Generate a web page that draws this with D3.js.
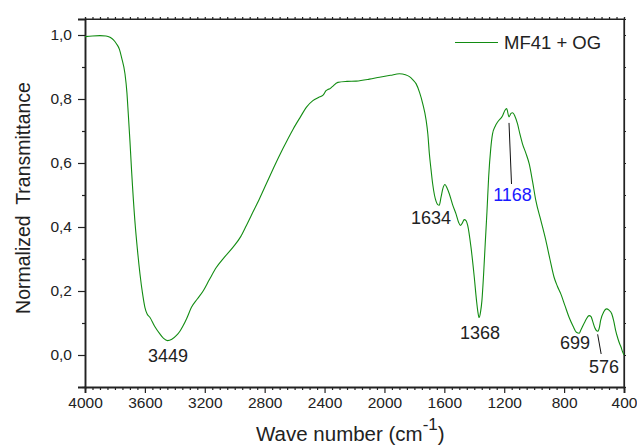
<!DOCTYPE html>
<html>
<head>
<meta charset="utf-8">
<script src="https://cdn.jsdelivr.net/npm/d3@7/dist/d3.min.js"></script>
<style>
  html, body { margin: 0; padding: 0; background: #fff; }
  svg { display: block; font-family: "Liberation Sans", Arial, sans-serif; }
</style>
</head>
<body>
<svg id="chart" width="637" height="446"></svg>
<script>
// FTIR spectrum of MF41 + OG: wave number (cm-1) and normalized transmittance
const waveNumbers = [
  4000, 3950, 3900, 3860, 3833, 3810, 3789, 3770, 3756, 3733, 3720, 3711, 3700, 3689,
  3667, 3650, 3633, 3615, 3600, 3585, 3567, 3535, 3500, 3475, 3449, 3420, 3389, 3365,
  3344, 3320, 3289, 3250, 3211, 3170, 3122, 3070, 3011, 2960, 2922, 2880, 2833, 2789,
  2740, 2678, 2611, 2560, 2522, 2478, 2440, 2410, 2390, 2378, 2365, 2350, 2311, 2250,
  2189, 2100, 2033, 1960, 1900, 1860, 1833, 1810, 1789, 1765, 1744, 1722, 1710, 1700,
  1689, 1678, 1666, 1655, 1644, 1634, 1622, 1610, 1596, 1582, 1567, 1545, 1522, 1505,
  1493, 1480, 1467, 1455, 1444, 1422, 1400, 1385, 1376, 1368, 1358, 1349, 1338, 1327,
  1315, 1304, 1290, 1278, 1260, 1244, 1211, 1195, 1184, 1168, 1155, 1144, 1130, 1111,
  1095, 1078, 1055, 1033, 1010, 989, 955, 922, 895, 867, 845, 822, 795, 767, 740, 718,
  699, 689, 660, 633, 620, 611, 595, 576, 565, 556, 535, 518, 500, 482, 468, 456, 440,
  429, 420, 411, 405, 400
];
const transmittance = [
  0.995, 0.997, 0.998, 0.997, 0.993, 0.985, 0.972, 0.955, 0.930, 0.879, 0.820, 0.754, 0.670, 0.577,
  0.420, 0.330, 0.254, 0.190, 0.149, 0.128, 0.118, 0.090, 0.066, 0.052, 0.045, 0.049, 0.061, 0.075,
  0.092, 0.115, 0.149, 0.175, 0.200, 0.235, 0.274, 0.305, 0.337, 0.370, 0.405, 0.445, 0.490, 0.535,
  0.585, 0.645, 0.705, 0.745, 0.774, 0.795, 0.805, 0.812, 0.826, 0.830, 0.832, 0.838, 0.852, 0.855,
  0.856, 0.862, 0.868, 0.874, 0.879, 0.876, 0.870, 0.860, 0.848, 0.820, 0.785, 0.735, 0.690, 0.629,
  0.580, 0.535, 0.500, 0.480, 0.470, 0.468, 0.493, 0.520, 0.533, 0.522, 0.504, 0.470, 0.441, 0.415,
  0.405, 0.412, 0.423, 0.420, 0.405, 0.337, 0.243, 0.170, 0.135, 0.117, 0.135, 0.170, 0.250, 0.347,
  0.450, 0.556, 0.645, 0.691, 0.715, 0.728, 0.748, 0.765, 0.770, 0.744, 0.755, 0.757, 0.748, 0.722,
  0.690, 0.660, 0.630, 0.597, 0.540, 0.483, 0.420, 0.358, 0.300, 0.243, 0.215, 0.191, 0.155, 0.118, 0.090, 0.071,
  0.068, 0.077, 0.105, 0.123, 0.120, 0.108, 0.085, 0.074, 0.085, 0.108, 0.135, 0.144, 0.140, 0.129, 0.105, 0.077, 0.050,
  0.035, 0.025, 0.012, 0.005, 0.000
];

// Axis ticks
const xTickValues = [4000, 3600, 3200, 2800, 2400, 2000, 1600, 1200, 800, 400];
const yTickValues = [0.0, 0.2, 0.4, 0.6, 0.8, 1.0];

// Peak annotations
const peakLabels = ["3449", "1634", "1168", "1368", "699", "576"];
const peakColors = ["#222", "#222", "#1a1aff", "#222", "#222", "#222"];

const seriesName = "MF41 + OG";

const svg = d3.select("#chart");
const plotLeft = 85, plotRight = 624, plotTop = 19, plotBottom = 387;

const x = d3.scaleLinear().domain([4000, 400]).range([plotLeft, plotRight]);
const y = d3.scaleLinear().domain([-0.1, 1.05]).range([plotBottom, plotTop]);

const fmt = v => d3.format(".1f")(v).replace(".", ",");

// Frame (top and right)
svg.append("line").attr("x1", plotLeft).attr("x2", plotRight).attr("y1", plotTop).attr("y2", plotTop)
  .attr("stroke", "#222").attr("stroke-width", 1.2);
svg.append("line").attr("x1", plotRight).attr("x2", plotRight).attr("y1", plotTop).attr("y2", plotBottom)
  .attr("stroke", "#222").attr("stroke-width", 1.2);

// Bottom axis: major ticks every 400, minor every 50
const xMinor = d3.range(4000, 399, -50).filter(v => v % 400 !== 0);
svg.append("g").attr("transform", `translate(0,${plotBottom})`)
  .call(d3.axisBottom(x).tickValues(xMinor).tickSize(3).tickFormat(""));
const bottomAxis = svg.append("g").attr("transform", `translate(0,${plotBottom})`)
  .call(d3.axisBottom(x).tickValues(xTickValues).tickSize(6).tickPadding(4).tickFormat(d3.format("d")));
bottomAxis.selectAll("text").attr("font-size", 15.5).attr("fill", "#222")
  .attr("font-family", "Liberation Sans, Arial, sans-serif");

// Top axis: small outward ticks
svg.append("g").attr("transform", `translate(0,${plotTop})`)
  .call(d3.axisTop(x).tickValues(d3.range(4000, 399, -50)).tickSize(2).tickFormat(""));

// Left axis
const yMinor = [-0.1, 0.1, 0.3, 0.5, 0.7, 0.9];
svg.append("g").attr("transform", `translate(${plotLeft},0)`)
  .call(d3.axisLeft(y).tickValues(yMinor).tickSize(3).tickFormat(""));
const leftAxis = svg.append("g").attr("transform", `translate(${plotLeft},0)`)
  .call(d3.axisLeft(y).tickValues(yTickValues).tickSize(7).tickPadding(6).tickFormat(fmt));
leftAxis.selectAll("text").attr("font-size", 15.5).attr("fill", "#222")
  .attr("font-family", "Liberation Sans, Arial, sans-serif");

// Right axis: small outward ticks every 0.1
svg.append("g").attr("transform", `translate(${plotRight},0)`)
  .call(d3.axisRight(y).tickValues(d3.range(0, 11).map(i => i / 10)).tickSize(2).tickFormat(""));

svg.selectAll(".domain").attr("stroke", "#222").attr("stroke-width", 1.2);
svg.selectAll(".tick line").attr("stroke", "#222").attr("stroke-width", 1.2);
// Left and bottom axis lines are heavier
leftAxis.select(".domain").attr("stroke-width", 1.8);
bottomAxis.select(".domain").attr("stroke-width", 1.8);

// Spectrum
const data = waveNumbers.map((w, i) => ({ w, t: transmittance[i] }));
const line = d3.line().x(d => x(d.w)).y(d => y(d.t)).curve(d3.curveMonotoneX);
svg.append("path").datum(data).attr("d", line)
  .attr("fill", "none").attr("stroke", "#128c12").attr("stroke-width", 1.1);

// Peak labels
const labelPos = [
  { x: 168, y: 362 },
  { x: 431, y: 224 },
  { x: 512.5, y: 200.5 },
  { x: 480, y: 339 },
  { x: 575, y: 349 },
  { x: 604, y: 373 }
];
peakLabels.forEach((lab, i) => {
  svg.append("text").attr("x", labelPos[i].x).attr("y", labelPos[i].y)
    .attr("text-anchor", "middle").attr("font-size", 18).attr("fill", peakColors[i])
    .text(lab);
});

// Leader lines from peaks to labels
const valueAt = w => transmittance[waveNumbers.indexOf(w)];
svg.append("line").attr("x1", x(1168)).attr("y1", y(valueAt(1168)) + 6)
  .attr("x2", x(1168) + 2.5).attr("y2", 184).attr("stroke", "#111").attr("stroke-width", 1);
svg.append("line").attr("x1", x(576)).attr("y1", y(valueAt(576)) + 3)
  .attr("x2", x(576) + 3.5).attr("y2", 354).attr("stroke", "#111").attr("stroke-width", 1);

// Legend
svg.append("line").attr("x1", 455).attr("x2", 498).attr("y1", 42.5).attr("y2", 42.5)
  .attr("stroke", "#128c12").attr("stroke-width", 1.1);
svg.append("text").attr("x", 504).attr("y", 49).attr("font-size", 18.5).attr("fill", "#222")
  .text(seriesName);

// Axis titles
const xt = svg.append("text").attr("x", 256).attr("y", 441).attr("font-size", 20.5).attr("fill", "#222");
xt.append("tspan").text("Wave number (cm");
xt.append("tspan").attr("dy", -11).attr("font-size", 17).text("-1");
xt.append("tspan").attr("dy", 11).text(")");

svg.append("text").attr("transform", "translate(30,198) rotate(-90)")
  .attr("text-anchor", "middle").attr("font-size", 19.5).attr("fill", "#222")
  .style("white-space", "pre")
  .text("Normalized  Transmittance");
</script>
</body>
</html>
